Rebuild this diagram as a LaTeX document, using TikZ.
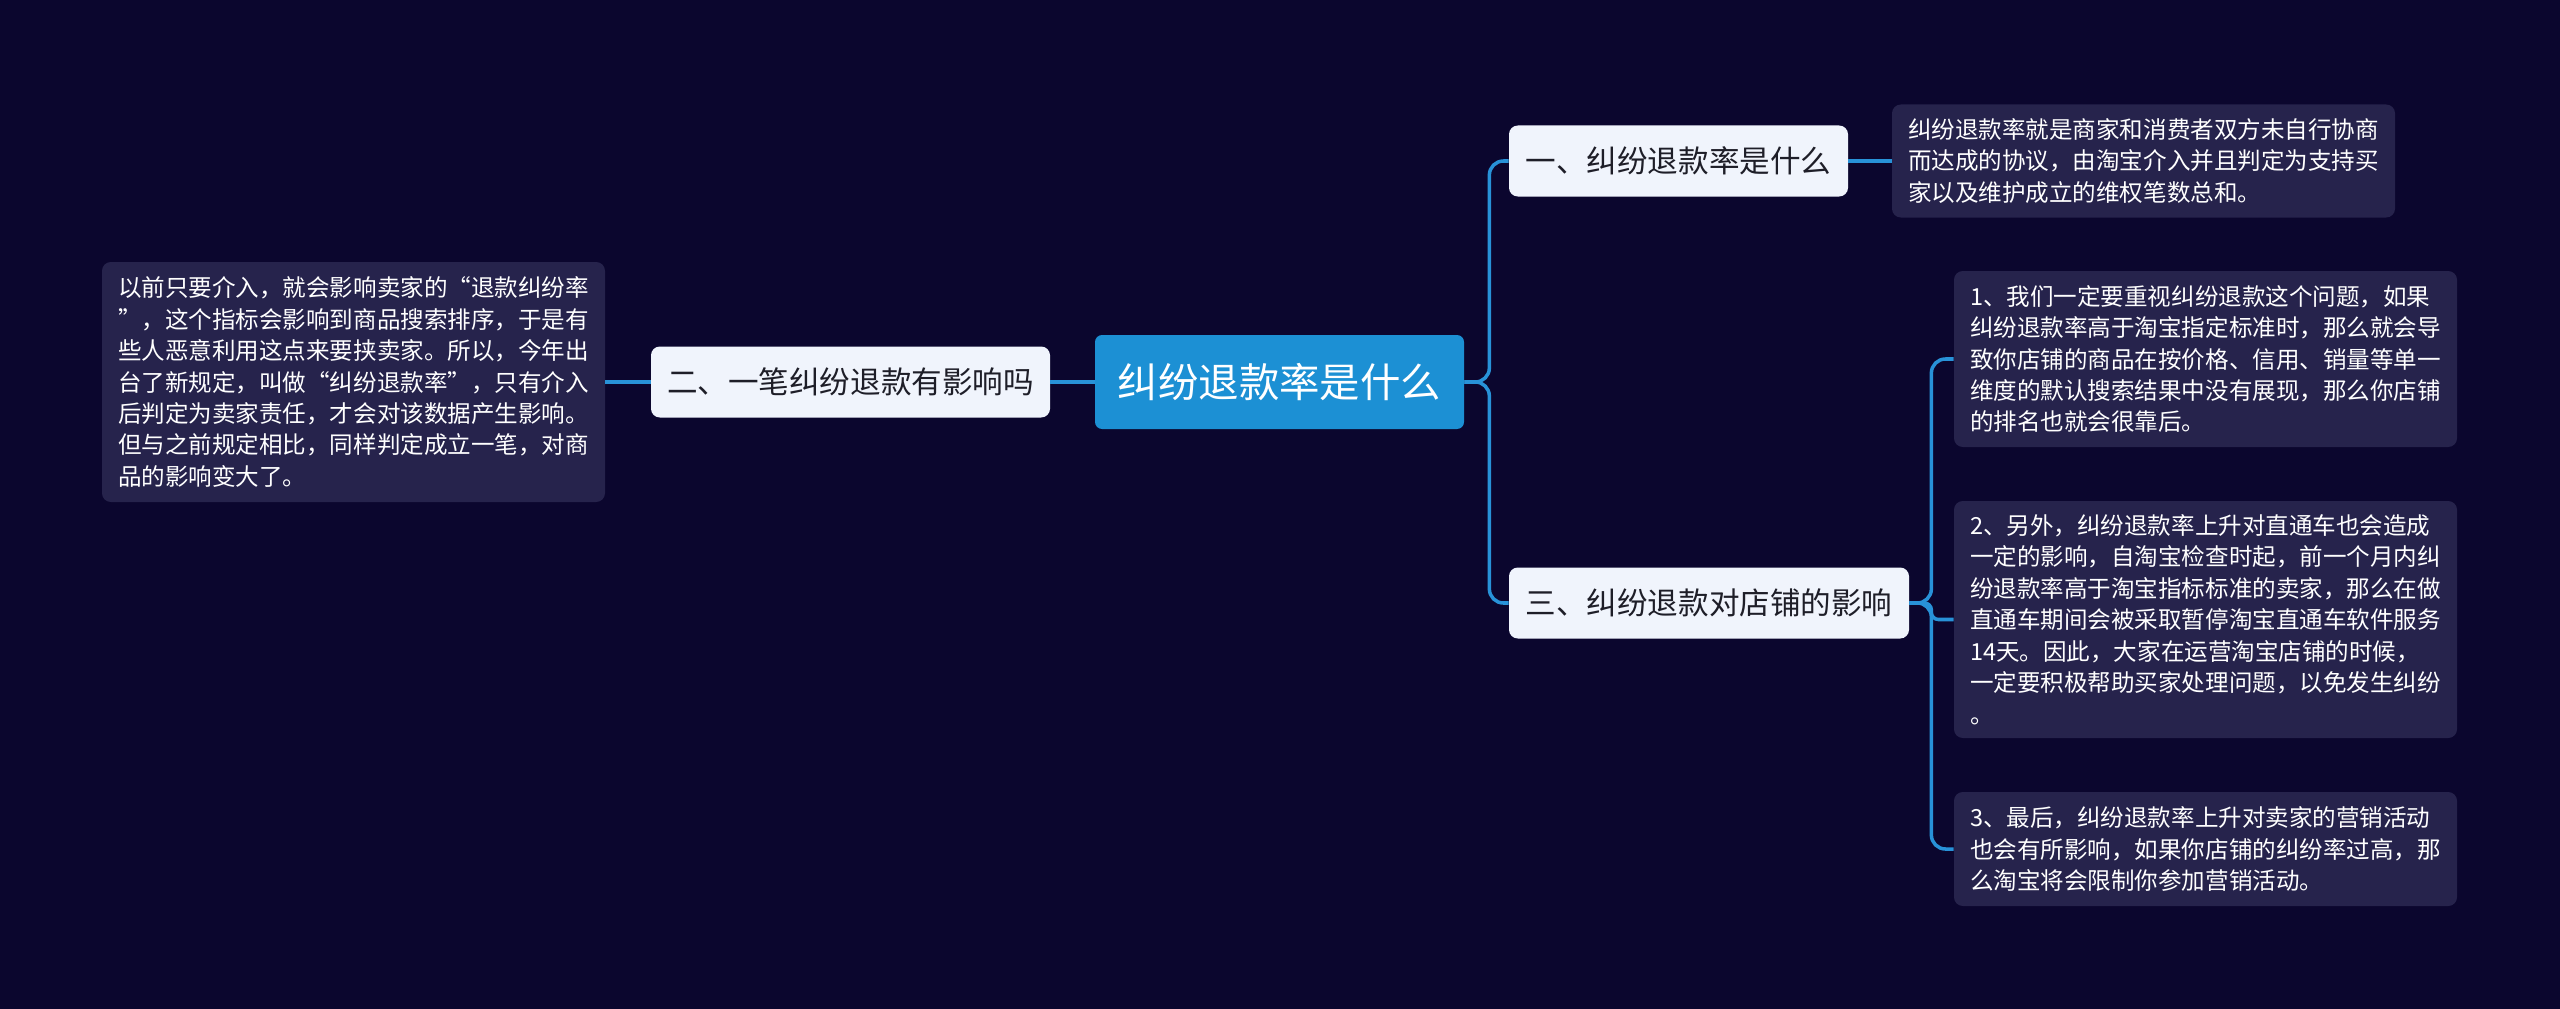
\documentclass[tikz,border=0pt]{standalone}
\usepackage{fontspec}
\usepackage{xcolor}
\usepackage{tikz}
\usetikzlibrary{positioning}
\newfontfamily\cjk{Noto Sans CJK SC}
\definecolor{bgnavy}{RGB}{11,6,46}
\definecolor{rootblue}{RGB}{28,144,212}
\definecolor{topicfill}{RGB}{240,244,252}
\definecolor{topictext}{RGB}{30,30,40}
\definecolor{leaffill}{RGB}{38,35,76}
\definecolor{linkblue}{RGB}{40,146,216}
\tikzset{
  root/.style={rectangle, fill=rootblue, text=white,
    minimum width=7.38cm, minimum height=1.88cm, inner sep=0pt,
    font=\cjk\fontsize{23}{28}\selectfont, rounded corners=4pt},
  topic/.style={rectangle, fill=topicfill, text=topictext,
    minimum height=1.42cm, inner sep=0pt,
    font=\cjk\fontsize{17.4}{22}\selectfont, rounded corners=5pt},
  leaf/.style={rectangle, fill=leaffill, text=white,
    minimum width=10.06cm, inner sep=0pt, align=left,
    font=\cjk\fontsize{13.4}{17.9}\selectfont, rounded corners=5pt},
  link/.style={draw=linkblue, line width=2pt, rounded corners=8pt}
}

\begin{document}
\begin{tikzpicture}
  \useasboundingbox[fill=bgnavy] (0,0) rectangle (51.2,-20.18);

  % centre
  \node[root] (root) at (25.59,-7.64) {纠纷退款率是什么};

  % left branch
  \node[topic, minimum width=7.98cm] (t2) at (17.01,-7.64) {二、一笔纠纷退款有影响吗};
  \node[leaf, minimum height=4.8cm] (l2) at (7.07,-7.64) {以前只要介入，就会影响卖家的“退款纠纷率\\”，这个指标会影响到商品搜索排序，于是有\\些人恶意利用这点来要挟卖家。所以，今年出\\台了新规定，叫做“纠纷退款率”，只有介入\\后判定为卖家责任，才会对该数据产生影响。\\但与之前规定相比，同样判定成立一笔，对商\\品的影响变大了。};

  % right branches
  \node[topic, minimum width=6.78cm] (t1) at (33.57,-3.22) {一、纠纷退款率是什么};
  \node[leaf, minimum height=2.26cm] (l1) at (42.87,-3.22) {纠纷退款率就是商家和消费者双方未自行协商\\而达成的协议，由淘宝介入并且判定为支持买\\家以及维护成立的维权笔数总和。};

  \node[topic, minimum width=8.0cm] (t3) at (34.18,-12.06) {三、纠纷退款对店铺的影响};
  \node[leaf, minimum height=3.52cm] (l31) at (44.11,-7.18) {1、我们一定要重视纠纷退款这个问题，如果\\纠纷退款率高于淘宝指定标准时，那么就会导\\致你店铺的商品在按价格、信用、销量等单一\\维度的默认搜索结果中没有展现，那么你店铺\\的排名也就会很靠后。};
  \node[leaf, minimum height=4.74cm] (l32) at (44.11,-12.39) {2、另外，纠纷退款率上升对直通车也会造成\\一定的影响，自淘宝检查时起，前一个月内纠\\纷退款率高于淘宝指标标准的卖家，那么在做\\直通车期间会被采取暂停淘宝直通车软件服务\\14天。因此，大家在运营淘宝店铺的时候，\\一定要积极帮助买家处理问题，以免发生纠纷\\。};
  \node[leaf, minimum height=2.28cm] (l33) at (44.11,-16.98) {3、最后，纠纷退款率上升对卖家的营销活动\\也会有所影响，如果你店铺的纠纷率过高，那\\么淘宝将会限制你参加营销活动。};

  % links
  \draw[link] (root.west) -- (t2.east);
  \draw[link] (t2.west) -- (l2.east);
  \draw[link] (root.east) -- ++(0.5,0) |- (t1.west);
  \draw[link] (root.east) -- ++(0.5,0) |- (t3.west);
  \draw[link] (t1.east) -- (l1.west);
  \draw[link] (t3.east) -- ++(0.44,0) |- (l31.west);
  \draw[link, rounded corners=4pt] (t3.east) -- ++(0.44,0) |- (l32.west);
  \draw[link] (t3.east) -- ++(0.44,0) |- (l33.west);
\end{tikzpicture}
\end{document}
